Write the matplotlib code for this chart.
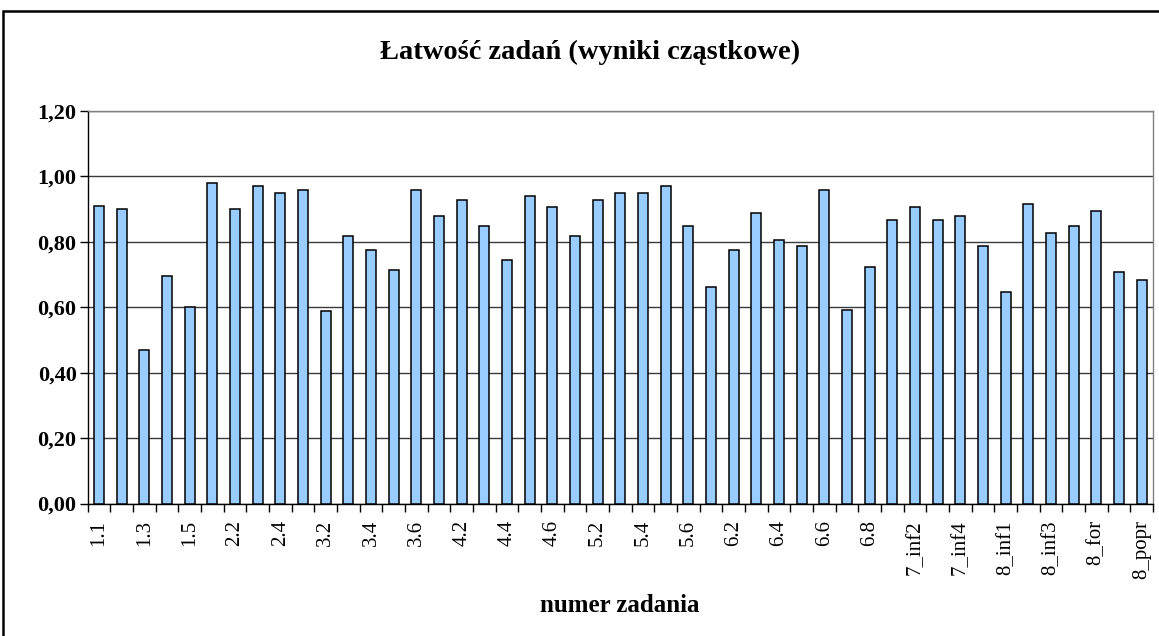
import matplotlib
matplotlib.use("Agg")
import matplotlib.pyplot as plt
from matplotlib.patches import Rectangle
from matplotlib.ticker import FuncFormatter, MultipleLocator

plt.rcParams['font.family'] = ['Liberation Serif', 'DejaVu Serif']

# numery zadan (co drugi podpis widoczny na osi)
tasks = ["1.1", "1.2", "1.3", "1.4", "1.5", "2.1", "2.2", "2.3", "2.4", "3.1",
         "3.2", "3.3", "3.4", "3.5", "3.6", "4.1", "4.2", "4.3", "4.4", "4.5",
         "4.6", "5.1", "5.2", "5.3", "5.4", "5.5", "5.6", "6.1", "6.2", "6.3",
         "6.4", "6.5", "6.6", "6.7", "6.8", "7_inf1", "7_inf2", "7_inf3", "7_inf4", "7_for",
         "8_inf1", "8_inf2", "8_inf3", "8_inf4", "8_for", "8_pop", "8_popr"]
easiness = [0.91, 0.90, 0.47, 0.695, 0.60, 0.98, 0.90, 0.97, 0.95, 0.96,
            0.59, 0.817, 0.776, 0.714, 0.96, 0.878, 0.929, 0.847, 0.745, 0.94,
            0.908, 0.817, 0.929, 0.95, 0.95, 0.97, 0.847, 0.663, 0.776, 0.888,
            0.806, 0.786, 0.96, 0.592, 0.724, 0.867, 0.908, 0.867, 0.878, 0.786,
            0.647, 0.917, 0.827, 0.847, 0.893, 0.709, 0.684]

W, H = 1159, 636
fig = plt.figure(figsize=(W / 100, H / 100), dpi=100)
ax = fig.add_axes([87.7 / W, 1 - 503.5 / H, (1153 - 87.7) / W, (503.5 - 111) / H])

x = list(range(len(tasks)))
ax.bar(x, easiness, width=0.44, color="#99CCFF", edgecolor="black", linewidth=1.1, zorder=3)

ax.set_xlim(-0.5, len(tasks) - 0.5)
ax.set_ylim(0, 1.2)
ax.yaxis.set_major_locator(MultipleLocator(0.2))
ax.yaxis.set_major_formatter(FuncFormatter(lambda v, p: f"{v:.2f}".replace(".", ",")))
ax.grid(axis="y", color="#3a3a3a", linewidth=1.0, zorder=0)

# podpisy co drugi slupek, kreski na granicach kategorii
ax.set_xticks(x[::2])
ax.set_xticklabels(tasks[::2], rotation=90, fontsize=15)
ax.set_xticks([i - 0.5 for i in range(len(tasks) + 1)], minor=True)
ax.tick_params(axis="x", which="major", length=0, pad=12)
ax.tick_params(axis="x", which="minor", length=6, width=1, color="black")
ax.tick_params(axis="y", length=6, width=1, labelsize=16, pad=2)
for lab in ax.get_yticklabels():
    lab.set_fontweight("bold")

for side in ("left", "bottom"):
    ax.spines[side].set_color("black")
    ax.spines[side].set_linewidth(1.0)
for side in ("top", "right"):
    ax.spines[side].set_color("#808080")
    ax.spines[side].set_linewidth(1.0)

fig.text(590 / W, 1 - 52 / H, "Łatwość zadań (wyniki cząstkowe)", ha="center", va="center",
         fontsize=20.5, fontweight="bold")
fig.text(620 / W, 1 - 606 / H, "numer zadania", ha="center", va="center",
         fontsize=18, fontweight="bold")

# ramka wykresu
fig.add_artist(Rectangle((3 / W, -0.1), 1.2, 0.1 + 1 - 11 / H, transform=fig.transFigure,
                         fill=False, edgecolor="black", linewidth=1.8))

fig.savefig("out.png", dpi=100)
